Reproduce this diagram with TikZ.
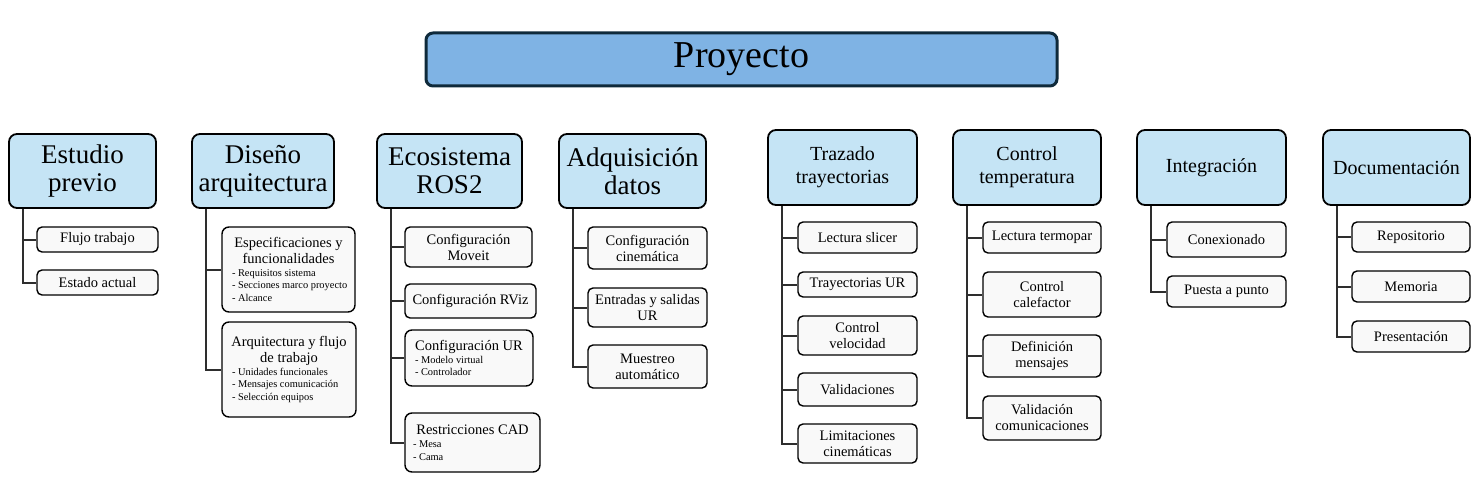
\documentclass[tikz,border=0pt]{standalone}
\usepackage{fontspec}
\setmainfont{Liberation Serif}
\definecolor{projfill}{HTML}{7FB3E4}
\definecolor{projdraw}{HTML}{0F2A3B}
\definecolor{catfill}{HTML}{C5E4F5}
\definecolor{subfill}{HTML}{F9F9F9}
\definecolor{linecol}{HTML}{2E2E2E}
\newcommand{\bsize}{\fontsize{10.4}{12.8}\selectfont}
\newcommand{\normsp}{\spaceskip=0pt\xspaceskip=0pt\relax}
\begin{document}
\begin{tikzpicture}[x=1pt,y=-1pt,
  proj/.style={draw=projdraw,line width=3pt,fill=projfill,rounded corners=7pt,inner sep=0pt,font=\fontsize{38}{40}\selectfont},
  catA/.style={draw=black,line width=1.8pt,fill=catfill,rounded corners=8pt,inner sep=0pt,align=center,font=\fontsize{27}{28}\selectfont},
  catB/.style={draw=black,line width=1.8pt,fill=catfill,rounded corners=8pt,inner sep=0pt,align=center,font=\fontsize{20}{23}\selectfont},
  sub/.style={draw=black,line width=1.4pt,fill=subfill,rounded corners=5pt,inner sep=0pt,align=center,font=\fontsize{14.5}{16}\selectfont},
  subb/.style={draw=black,line width=1.4pt,fill=subfill,rounded corners=7pt,inner sep=0pt,align=left,font=\fontsize{14.5}{16}\selectfont},
  conn/.style={draw=linecol,line width=2pt}]
\useasboundingbox (0,0) rectangle (1482,492);

\node[proj,minimum width=631pt,minimum height=53pt] (p) at (741.5,59.5) {Proyecto};

% categories
\node[catA,minimum width=147pt,minimum height=74pt] (k1) at (82.5,171) {Estudio\\previo};
\node[catA,minimum width=142pt,minimum height=74pt] (k2) at (263,171) {Diseño\\arquitectura};
\node[catA,minimum width=145pt,minimum height=74pt] (k3) at (449.5,171) {Ecosistema\\ROS2};
\node[catA,minimum width=147pt,minimum height=74pt] (k4) at (632.5,171) {Adquisición\\datos};
\node[catB,minimum width=149pt,minimum height=75pt] (k5) at (842.5,167.5) {Trazado\\trayectorias};
\node[catB,minimum width=148pt,minimum height=75pt] (k6) at (1027,167.5) {Control\\temperatura};
\node[catB,minimum width=149pt,minimum height=75pt] (k7) at (1211.5,167.5) {Integración};
\node[catB,minimum width=147pt,minimum height=75pt] (k8) at (1396.5,167.5) {Documentación};

% Estudio previo
\node[sub,minimum width=121pt,minimum height=25pt] (a1) at (97.5,239.5) {Flujo trabajo};
\node[sub,minimum width=121pt,minimum height=25pt] (a2) at (97.5,282.5) {Estado actual};

% Diseño arquitectura
\node[subb,minimum width=133pt,minimum height=85pt,text width=127pt] (b1) at (288.5,269.5)
  {\normsp{\centering Especificaciones y\\ funcionalidades\par}{\leftskip=7pt\bsize\normsp - Requisitos sistema\\- Secciones marco proyecto\\- Alcance\par}};
\node[subb,minimum width=134pt,minimum height=95pt,text width=128pt] (b2) at (289,369.5)
  {\normsp{\centering Arquitectura y flujo\\ de trabajo\par}{\leftskip=7pt\bsize\normsp - Unidades funcionales\\- Mensajes comunicación\\- Selección equipos\par}};

% Ecosistema ROS2
\node[sub,minimum width=127pt,minimum height=40pt] (c1) at (468.5,247) {Configuración\\Moveit};
\node[sub,minimum width=131pt,minimum height=34pt] (c2) at (470.5,301) {Configuración RViz};
\node[subb,minimum width=128pt,minimum height=56pt,text width=122pt] (c3) at (469,358)
  {\normsp{\centering Configuración UR\par}{\leftskip=7pt\bsize\normsp - Modelo virtual\\- Controlador\par}};
\node[subb,minimum width=135pt,minimum height=59pt,text width=129pt] (c4) at (472.5,442.5)
  {\normsp{\centering Restricciones CAD\par}{\leftskip=5pt\bsize\normsp - Mesa\\- Cama\par}};

% Adquisición datos
\node[sub,minimum width=119pt,minimum height=42pt] (d1) at (647.5,248) {Configuración\\cinemática};
\node[sub,minimum width=119pt,minimum height=39pt] (d2) at (647.5,307.5) {Entradas y salidas\\UR};
\node[sub,minimum width=119pt,minimum height=43pt] (d3) at (647.5,366.5) {Muestreo\\automático};

% Trazado trayectorias
\node[sub,minimum width=119pt,minimum height=31pt] (e1) at (857.5,237.5) {Lectura slicer};
\node[sub,minimum width=119pt,minimum height=25pt] (e2) at (857.5,284.5) {Trayectorias UR};
\node[sub,minimum width=119pt,minimum height=39pt] (e3) at (857.5,335.5) {Control\\velocidad};
\node[sub,minimum width=119pt,minimum height=33pt] (e4) at (857.5,389.5) {Validaciones};
\node[sub,minimum width=119pt,minimum height=39pt] (e5) at (857.5,443.5) {Limitaciones\\cinemáticas};

% Control temperatura
\node[sub,minimum width=118pt,minimum height=31pt] (f1) at (1042,237.5) {Lectura termopar};
\node[sub,minimum width=118pt,minimum height=45pt] (f2) at (1042,294.5) {Control\\calefactor};
\node[sub,minimum width=118pt,minimum height=42pt] (f3) at (1042,356) {Definición\\mensajes};
\node[sub,minimum width=118pt,minimum height=44pt] (f4) at (1042,418) {Validación\\comunicaciones};

% Integración
\node[sub,minimum width=119pt,minimum height=35pt] (g1) at (1226.5,239.5) {Conexionado};
\node[sub,minimum width=119pt,minimum height=31pt] (g2) at (1226.5,291.5) {Puesta a punto};

% Documentación
\node[sub,minimum width=118pt,minimum height=30pt] (h1) at (1411,237) {Repositorio};
\node[sub,minimum width=118pt,minimum height=31pt] (h2) at (1411,286.5) {Memoria};
\node[sub,minimum width=118pt,minimum height=31pt] (h3) at (1411,336.5) {Presentación};

% connectors
\foreach \k/\list in {k1/{a1,a2},k2/{b1,b2},k3/{c1,c2,c3,c4},k4/{d1,d2,d3},k5/{e1,e2,e3,e4,e5},k6/{f1,f2,f3,f4},k7/{g1,g2},k8/{h1,h2,h3}}{
  \foreach \c in \list {
    \draw[conn] ([xshift=15pt]\k.south west) |- (\c.west);
  }
}
\end{tikzpicture}
\end{document}
